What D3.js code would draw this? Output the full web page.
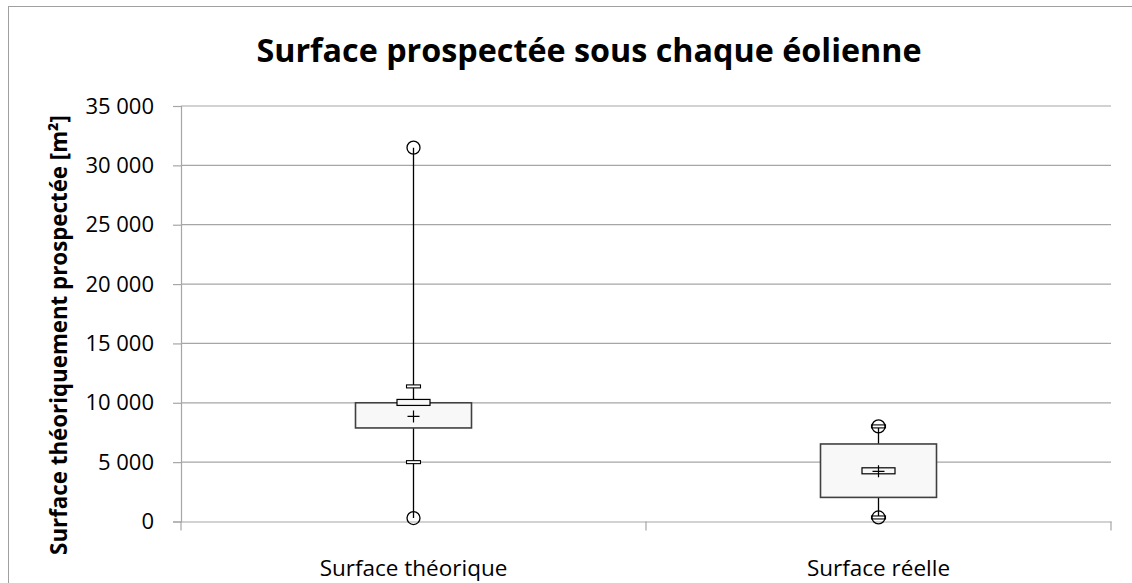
<!DOCTYPE html>
<html>
<head>
<meta charset="utf-8">
<script src="https://cdn.jsdelivr.net/npm/d3@7"></script>
<style>
body{margin:0;background:#fff;}
text{font-family:"Open Sans",sans-serif;fill:#000;}
</style>
</head>
<body>
<script>
var w=1132;
var h=583;

// box plot values
var categories=["Surface théorique","Surface réelle"];
var q1=[7880,2030];
var q3=[10000,6530];
var median=[10030,4270];
var mean=[8850,4230];
var whiskLow=[5000,340];
var whiskHigh=[11380,8010];
var minVal=[290,340];
var maxVal=[31490,8010];
var yTicks=[0,5000,10000,15000,20000,25000,30000,35000];

var rows=categories.map(function(c,i){
	return {cat:c,q1:q1[i],q3:q3[i],med:median[i],mean:mean[i],
		lo:whiskLow[i],hi:whiskHigh[i],min:minVal[i],max:maxVal[i]};
});

var plotL=181, plotR=1111, plotT=106, plotB=521.5;

var svg=d3.select("body").append("svg")
	.attr("width",w)
	.attr("height",h);

// chart border
svg.append("rect")
	.attr("x",8.5).attr("y",6.5)
	.attr("width",1140).attr("height",600)
	.attr("fill","none").attr("stroke","#a0a0a0");

var x=d3.scaleBand().domain(categories).range([plotL,plotR]);
var y=d3.scaleLinear().domain([0,35000]).range([plotB,plotT]);

var fmt=function(d){ return d3.format(",")(d).replace(/,/g," "); };

// gridlines
svg.append("g").selectAll("line")
	.data(yTicks.slice(1))
	.enter().append("line")
	.attr("x1",plotL).attr("x2",plotR)
	.attr("y1",function(d){ return y(d); })
	.attr("y2",function(d){ return y(d); })
	.attr("stroke","#a6a6a6").attr("stroke-width",1.2);

// y axis
var yAxis=svg.append("g")
	.attr("transform","translate("+plotL+",0)")
	.call(d3.axisLeft(y).tickValues(yTicks).tickFormat(fmt).tickSize(8).tickPadding(19));
yAxis.select(".domain").attr("stroke","#a6a6a6").attr("stroke-width",1.2);
yAxis.selectAll(".tick line").attr("stroke","#a6a6a6").attr("stroke-width",1.2);
yAxis.selectAll("text").attr("font-size",22).attr("font-family","Open Sans");

// x axis
var xAxis=svg.append("g")
	.attr("transform","translate(0,"+plotB+")")
	.call(d3.axisBottom(x).tickSize(0));
xAxis.select(".domain").attr("stroke","#a6a6a6").attr("stroke-width",1.2);
xAxis.selectAll("text").attr("font-size",22.5).attr("font-family","Open Sans")
	.attr("y",54.5).attr("dy",0);
xAxis.selectAll(".sep")
	.data([plotL,(plotL+plotR)/2,plotR])
	.enter().append("line")
	.attr("class","sep")
	.attr("x1",function(d){ return d; }).attr("x2",function(d){ return d; })
	.attr("y1",0).attr("y2",9)
	.attr("stroke","#a6a6a6").attr("stroke-width",1.2);

// boxes
var bw=116;
var g=svg.append("g").selectAll("g")
	.data(rows)
	.enter().append("g")
	.attr("transform",function(d){ return "translate("+(x(d.cat)+x.bandwidth()/2)+",0)"; });

g.append("line")
	.attr("x1",0).attr("x2",0)
	.attr("y1",function(d){ return y(d.min); })
	.attr("y2",function(d){ return y(d.max); })
	.attr("stroke","#000").attr("stroke-width",1.3);

g.append("rect")
	.attr("x",-bw/2).attr("width",bw)
	.attr("y",function(d){ return y(d.q3); })
	.attr("height",function(d){ return y(d.q1)-y(d.q3); })
	.attr("fill","#f8f8f8").attr("stroke","#404040").attr("stroke-width",1.6);

// whisker dashes
g.selectAll(".dash")
	.data(function(d){ return [d.lo,d.hi]; })
	.enter().append("rect")
	.attr("class","dash")
	.attr("x",-7).attr("width",14)
	.attr("y",function(d){ return y(d)-1.5; })
	.attr("height",3)
	.attr("fill","#fff").attr("stroke","#000").attr("stroke-width",1.1);

// min/max circles
g.selectAll(".ext")
	.data(function(d){ return [d.min,d.max]; })
	.enter().append("circle")
	.attr("class","ext")
	.attr("cx",0)
	.attr("cy",function(d){ return y(d); })
	.attr("r",6.5)
	.attr("fill","none").attr("stroke","#000").attr("stroke-width",1.3);

// median marker
g.append("rect")
	.attr("x",-16.5).attr("width",33)
	.attr("y",function(d){ return y(d.med)-3; })
	.attr("height",6)
	.attr("fill","#f8f8f8").attr("stroke","#000").attr("stroke-width",1.2);

// mean cross
g.append("path")
	.attr("d",function(d){
		var m=y(d.mean);
		return "M-6,"+m+"H6M0,"+(m-6)+"V"+(m+6);
	})
	.attr("stroke","#000").attr("stroke-width",1.2).attr("fill","none");

// titles
svg.append("text")
	.attr("x",589).attr("y",62)
	.attr("text-anchor","middle")
	.attr("font-size",32.3).attr("font-weight","bold")
	.text("Surface prospectée sous chaque éolienne");

svg.append("text")
	.attr("transform","translate(67,335) rotate(-90)")
	.attr("text-anchor","middle")
	.attr("font-size",22.3).attr("font-weight","bold")
	.text("Surface théoriquement prospectée [m²]");
</script>
</body>
</html>
